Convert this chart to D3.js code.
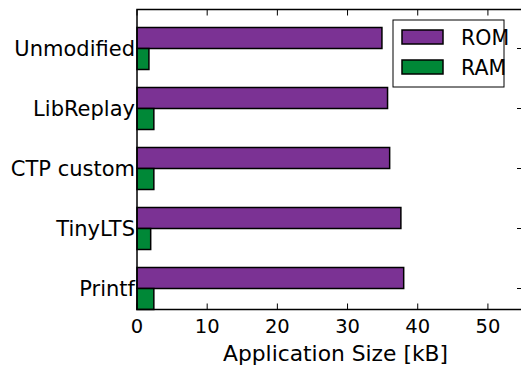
<!DOCTYPE html>
<html><head><meta charset="utf-8">
<script src="https://cdn.jsdelivr.net/npm/d3@7"></script>
<style>body{margin:0;background:#fff;} svg{display:block;} text{font-family:"DejaVu Sans";}</style>
</head><body>
<script>
const categories = ["Unmodified","LibReplay","CTP custom","TinyLTS","Printf"];
const romValues = [34.9, 35.7, 36.0, 37.6, 38.0];
const ramValues = [1.7, 2.4, 2.4, 1.95, 2.4];
const xTicks = [0,10,20,30,40,50];
const seriesNames = ["ROM","RAM"];
const colors = ["#7b3294","#008837"];

const W=521,H=365;
const L=137,R=523,T=9.5,B=309.5;
const svg=d3.select("body").append("svg").attr("width",W).attr("height",H);
const x=d3.scaleLinear().domain([0,55]).range([L,R]);
const y=d3.scaleLinear().domain([-0.65,4.35]).range([T,B]);
const bh=0.35;

const g=svg.append("g");
categories.forEach((c,i)=>{
  g.append("rect").attr("x",x(0)).attr("y",y(i-bh)).attr("width",x(romValues[i])-x(0)).attr("height",y(i)-y(i-bh))
   .attr("fill",colors[0]).attr("stroke","#000").attr("stroke-width",1.5);
  g.append("rect").attr("x",x(0)).attr("y",y(i)).attr("width",x(ramValues[i])-x(0)).attr("height",y(i+bh)-y(i))
   .attr("fill",colors[1]).attr("stroke","#000").attr("stroke-width",1.5);
});

// ticks
const tl=6;
xTicks.forEach(t=>{
  svg.append("line").attr("x1",x(t)).attr("x2",x(t)).attr("y1",B).attr("y2",B-tl).attr("stroke","#000").attr("stroke-width",1);
  svg.append("line").attr("x1",x(t)).attr("x2",x(t)).attr("y1",T).attr("y2",T+tl).attr("stroke","#000").attr("stroke-width",1);
  svg.append("text").attr("x",x(t)).attr("y",B+23.5).attr("text-anchor","middle").attr("font-size",19.5).text(t);
});
categories.forEach((c,i)=>{
  svg.append("line").attr("x1",R).attr("x2",R-tl).attr("y1",y(i)).attr("y2",y(i)).attr("stroke","#000").attr("stroke-width",1);
  svg.append("text").attr("x",L-2).attr("y",y(i)).attr("dy","0.36em").attr("text-anchor","end").attr("font-size",21).text(c);
});
svg.append("rect").attr("x",L).attr("y",T).attr("width",R-L).attr("height",B-T).attr("fill","none").attr("stroke","#000").attr("stroke-width",1.5);

svg.append("text").attr("x",335.5).attr("y",361).attr("text-anchor","middle").attr("font-size",21.8).text("Application Size [kB]");

// legend
const lg=svg.append("g");
lg.append("rect").attr("x",393).attr("y",20).attr("width",111).attr("height",67).attr("fill","#fff").attr("stroke","#000").attr("stroke-width",1);
seriesNames.forEach((s,i)=>{
  lg.append("rect").attr("x",402).attr("y",30+i*30).attr("width",41).attr("height",14).attr("fill",colors[i]).attr("stroke","#000").attr("stroke-width",1.5);
  lg.append("text").attr("x",461).attr("y",45+i*30).attr("font-size",20.5).text(s);
});
</script>
</body></html>
